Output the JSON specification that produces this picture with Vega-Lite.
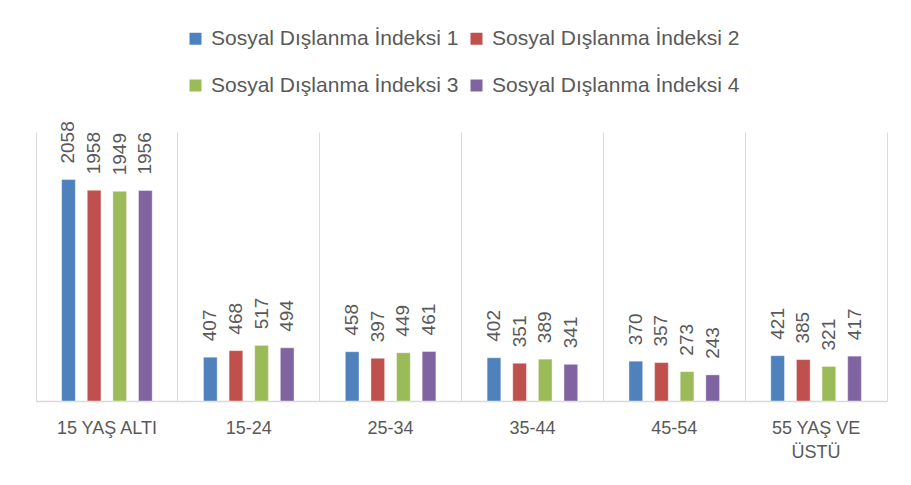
{
  "$schema": "https://vega.github.io/schema/vega-lite/v6.json",
  "width": 851,
  "height": 269,
  "autosize": {"type": "none"},
  "padding": {"left": 36, "top": 132, "right": 24, "bottom": 84},
  "background": "white",
  "datasets": {
    "bars": [
      {"cat": "15 YAŞ ALTI", "series": "Sosyal Dışlanma İndeksi 1", "value": 2058},
      {"cat": "15 YAŞ ALTI", "series": "Sosyal Dışlanma İndeksi 2", "value": 1958},
      {"cat": "15 YAŞ ALTI", "series": "Sosyal Dışlanma İndeksi 3", "value": 1949},
      {"cat": "15 YAŞ ALTI", "series": "Sosyal Dışlanma İndeksi 4", "value": 1956},
      {"cat": "15-24", "series": "Sosyal Dışlanma İndeksi 1", "value": 407},
      {"cat": "15-24", "series": "Sosyal Dışlanma İndeksi 2", "value": 468},
      {"cat": "15-24", "series": "Sosyal Dışlanma İndeksi 3", "value": 517},
      {"cat": "15-24", "series": "Sosyal Dışlanma İndeksi 4", "value": 494},
      {"cat": "25-34", "series": "Sosyal Dışlanma İndeksi 1", "value": 458},
      {"cat": "25-34", "series": "Sosyal Dışlanma İndeksi 2", "value": 397},
      {"cat": "25-34", "series": "Sosyal Dışlanma İndeksi 3", "value": 449},
      {"cat": "25-34", "series": "Sosyal Dışlanma İndeksi 4", "value": 461},
      {"cat": "35-44", "series": "Sosyal Dışlanma İndeksi 1", "value": 402},
      {"cat": "35-44", "series": "Sosyal Dışlanma İndeksi 2", "value": 351},
      {"cat": "35-44", "series": "Sosyal Dışlanma İndeksi 3", "value": 389},
      {"cat": "35-44", "series": "Sosyal Dışlanma İndeksi 4", "value": 341},
      {"cat": "45-54", "series": "Sosyal Dışlanma İndeksi 1", "value": 370},
      {"cat": "45-54", "series": "Sosyal Dışlanma İndeksi 2", "value": 357},
      {"cat": "45-54", "series": "Sosyal Dışlanma İndeksi 3", "value": 273},
      {"cat": "45-54", "series": "Sosyal Dışlanma İndeksi 4", "value": 243},
      {"cat": "55 YAŞ VE ÜSTÜ", "series": "Sosyal Dışlanma İndeksi 1", "value": 421},
      {"cat": "55 YAŞ VE ÜSTÜ", "series": "Sosyal Dışlanma İndeksi 2", "value": 385},
      {"cat": "55 YAŞ VE ÜSTÜ", "series": "Sosyal Dışlanma İndeksi 3", "value": 321},
      {"cat": "55 YAŞ VE ÜSTÜ", "series": "Sosyal Dışlanma İndeksi 4", "value": 417}
    ]
  },
  "data": {"name": "bars"},
  "encoding": {
    "x": {"field": "cat", "type": "nominal",
          "sort": ["15 YAŞ ALTI", "15-24", "25-34", "35-44", "45-54", "55 YAŞ VE ÜSTÜ"],
          "scale": {"paddingInner": 0, "paddingOuter": 0},
          "axis": {"title": null, "labelAngle": 0, "ticks": false, "domain": true,
                   "domainColor": "#D9D9D9", "domainWidth": 1.5, "labelFontSize": 18,
                   "labelColor": "#595959", "labelFont": "Liberation Sans",
                   "labelPadding": 18, "labelLineHeight": 24, "labelLimit": 200,
                   "labelExpr": "datum.label == '55 YAŞ VE ÜSTÜ' ? ['55 YAŞ VE', 'ÜSTÜ'] : datum.label",
                   "grid": true, "bandPosition": 1, "tickExtra": true,
                   "gridColor": "#D9D9D9", "gridWidth": 1}},
    "xOffset": {"field": "series", "type": "nominal",
                "scale": {"paddingInner": 0.465, "paddingOuter": 1.15}},
    "y": {"field": "value", "type": "quantitative",
          "scale": {"domain": [0, 2500], "nice": false}, "axis": null}
  },
  "layer": [
    {
      "mark": {"type": "bar", "stroke": "white", "strokeOpacity": 0.4, "strokeWidth": 1},
      "encoding": {
        "color": {"field": "series", "type": "nominal",
                  "scale": {"range": ["#4F81BD", "#C0504D", "#9BBB59", "#8064A2"]},
                  "legend": {"title": null, "orient": "none", "legendX": 149, "legendY": -104,
                             "columns": 2, "direction": "horizontal",
                             "symbolType": "square", "symbolSize": 144, "symbolStrokeWidth": 0,
                             "labelFontSize": 21, "labelColor": "#595959", "labelFont": "Liberation Sans",
                             "labelOffset": 5, "columnPadding": 7, "rowPadding": 25, "labelLimit": 400}}
      }
    },
    {
      "mark": {"type": "text", "angle": 270, "align": "left", "baseline": "middle", "dx": 16,
               "fontSize": 19, "font": "Liberation Sans", "color": "#595959"},
      "encoding": {
        "text": {"field": "value", "type": "quantitative"}
      }
    }
  ],
  "config": {"view": {"stroke": null}}
}
